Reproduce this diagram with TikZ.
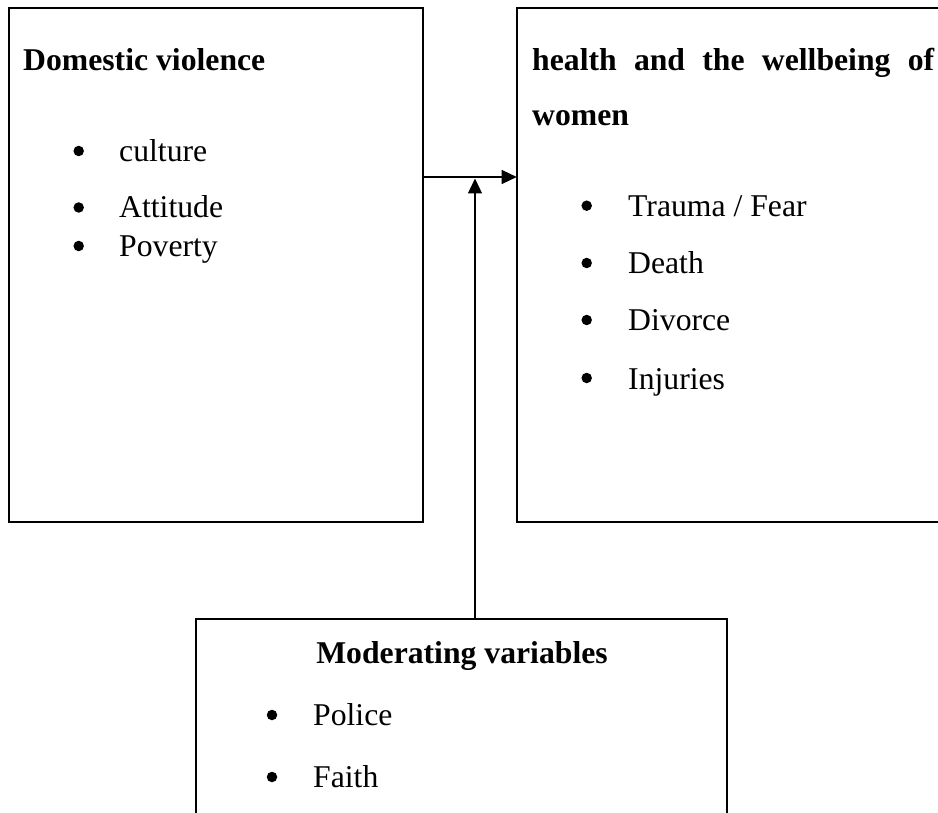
\documentclass[tikz,border=0pt]{standalone}
\usepackage{fontspec}
\setmainfont{Liberation Serif}
\usetikzlibrary{arrows.meta}
\begin{document}
\begin{tikzpicture}[x=1pt,y=-1pt,
  box/.style={draw=black,line width=2.2pt,minimum width=#1,inner sep=0pt,outer sep=0pt},
  txt/.style={anchor=base west,inner sep=0pt,font=\fontsize{31.7}{38}\selectfont},
  head/.style={txt,font=\fontsize{31.7}{38}\selectfont\bfseries},
  bul/.style={circle,fill=black,inner sep=0pt,minimum size=10.5pt},
  conn/.style={line width=1.3pt,-{Triangle[length=15pt,width=14pt]}}]
\clip (0,0) rectangle (938,813);
\fill[white] (0,0) rectangle (938,813);
% boxes
\node[box=414pt,minimum height=514pt] (dv) at (216,265) {};
\node[box=440pt,minimum height=514pt] (hw) at (736.7,265) {};
\node[box=531pt,minimum height=240pt] (mv) at (461.5,739) {};
% left box text
\node[head] (t1) at (23,71) {Domestic violence};
\node[bul] (b1) at (78.7,151) {};
\node[txt] (l1) at (119,161.5) {culture};
\node[bul] (b2) at (78.7,207.5) {};
\node[txt] (l2) at (119,218) {Attitude};
\node[bul] (b3) at (78.7,246) {};
\node[txt] (l3) at (119,256.5) {Poverty};
% right box text
\node[head] (t2) at (532,71) {\makebox[402pt][s]{health and the wellbeing of}};
\node[head] (t3) at (532,126) {women};
\node[bul] (b4) at (586.7,205.7) {};
\node[txt] (r1) at (628,216.5) {Trauma / Fear};
\node[bul] (b5) at (586.7,263) {};
\node[txt] (r2) at (628,274) {Death};
\node[bul] (b6) at (586.7,320) {};
\node[txt] (r3) at (628,330.5) {Divorce};
\node[bul] (b7) at (586.7,378) {};
\node[txt] (r4) at (628,389) {Injuries};
% bottom box text
\node[head,anchor=base] (t4) at (462,663) {Moderating variables};
\node[bul] (b8) at (272,715) {};
\node[txt] (m1) at (313,725.5) {Police};
\node[bul] (b9) at (272,777) {};
\node[txt] (m2) at (313,787.5) {Faith};
% connectors
\coordinate (hy) at (0,177);
\coordinate (vx) at (475,0);
\coordinate (vt) at (0,178.5);
\draw[conn] (dv.east |- hy) -- (hw.west |- hy);
\draw[conn] (mv.north -| vx) -- (vx |- vt);
\end{tikzpicture}
\end{document}
